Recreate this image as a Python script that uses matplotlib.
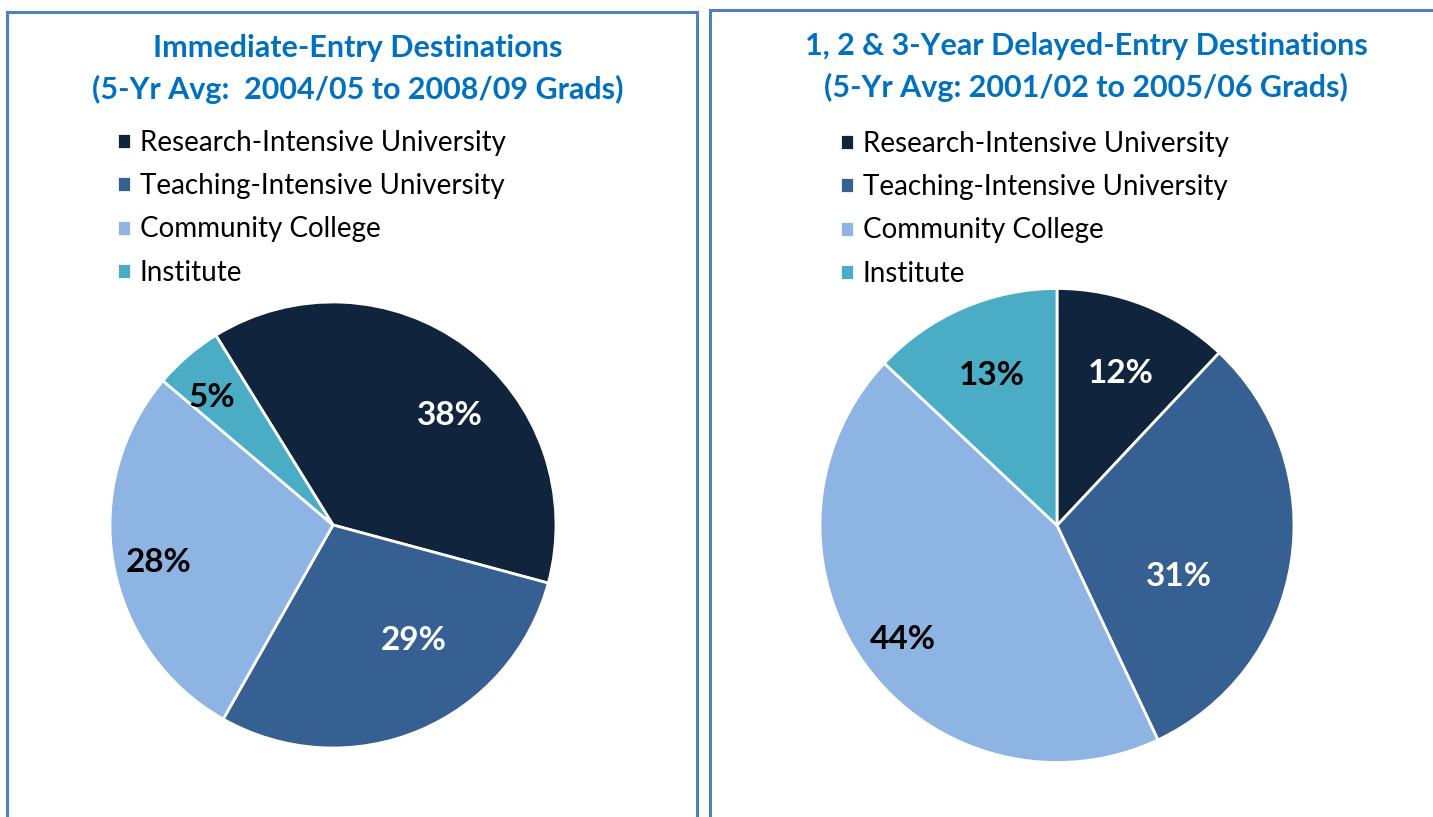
import matplotlib.pyplot as plt
from matplotlib.patches import Rectangle

W, H = 1433, 817

categories = ['Research-Intensive University', 'Teaching-Intensive University',
              'Community College', 'Institute']
colors = ['#10243E', '#376092', '#8EB4E3', '#4BACC6']
label_colors = ['white', 'white', 'black', 'black']

immediate = [38, 29, 28, 5]
delayed = [12, 31, 44, 13]

title_left = 'Immediate-Entry Destinations\n(5-Yr Avg:  2004/05 to 2008/09 Grads)'
title_right = '1, 2 & 3-Year Delayed-Entry Destinations\n(5-Yr Avg: 2001/02 to 2005/06 Grads)'

# where the percent labels sit (unit-circle coords), like excel's best fit
pos_left = [(0.525, 0.493), (0.363, -0.520), (-0.780, -0.166), (-0.543, 0.570)]
pos_right = [(0.27, 0.643), (0.515, -0.217), (-0.650, -0.483), (-0.274, 0.631)]

plt.rcParams['font.family'] = ['Lato', 'DejaVu Sans']

fig = plt.figure(figsize=(W / 100, H / 100), dpi=100)


def px_axes(cx, cy, r):
    return fig.add_axes([(cx - r) / W, 1 - (cy + r) / H, 2 * r / W, 2 * r / H])


def draw_pie(cx, cy, r, values, start, positions):
    ax = px_axes(cx, cy, r)
    wedges, _ = ax.pie(values, colors=colors, startangle=start, counterclock=False,
                       radius=1, wedgeprops=dict(edgecolor='white', linewidth=2))
    for v, c, (x, y) in zip(values, label_colors, positions):
        ax.text(x, y, '{}%'.format(v), ha='center', va='center', color=c,
                fontsize=24, fontweight='bold')
    ax.set_xlim(-1, 1)
    ax.set_ylim(-1, 1)
    ax.set_aspect('equal')
    ax.axis('off')
    return wedges


def draw_legend(wedges, x, y):
    fig.legend(wedges, categories, loc='upper left',
               bbox_to_anchor=(x / W, 1 - y / H), frameon=False,
               fontsize=20, handlelength=0.5, handleheight=0.5,
               handletextpad=0.32, labelspacing=0.62, borderpad=0,
               borderaxespad=0)


w1 = draw_pie(333, 525, 223, immediate, 121.7, pos_left)
w2 = draw_pie(1057, 525.5, 237, delayed, 90, pos_right)

draw_legend(w1, 117, 130)
draw_legend(w2, 840, 131)

fig.text(358 / W, 1 - 69 / H, title_left, ha='center', va='center', color='#0070C0',
         fontsize=22, fontweight='bold', linespacing=1.5)
fig.text(1086 / W, 1 - 67 / H, title_right, ha='center', va='center', color='#0070C0',
         fontsize=22, fontweight='bold', linespacing=1.5)

# panel borders
fig.add_artist(Rectangle((7 / W, -0.05), 690 / W, 1.05 - 12 / H, transform=fig.transFigure,
                         fill=False, edgecolor='#4F81BD', linewidth=2.2))
fig.add_artist(Rectangle((710 / W, -0.05), 0.6, 1.05 - 10 / H, transform=fig.transFigure,
                         fill=False, edgecolor='#4F81BD', linewidth=2.2))

fig.savefig('out.png', dpi=100)
